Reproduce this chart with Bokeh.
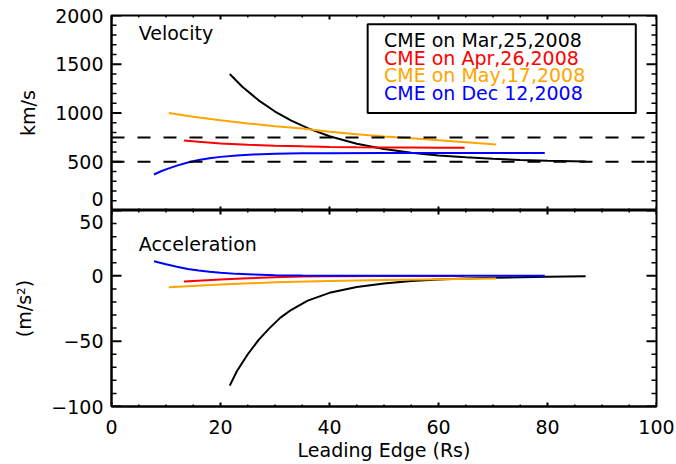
import math
from bokeh.plotting import figure
from bokeh.models import SingleIntervalTicker, Range1d, Span, Label, BoxAnnotation
from bokeh.layouts import column
from bokeh.embed import file_html
from bokeh.resources import INLINE

# ---------------- data ----------------
# CME on Mar,25,2008 (black)
mar_x_v = [21.7, 24, 27, 30, 33, 36, 40, 45, 50, 55, 60, 65, 70, 75, 80, 87]
mar_v = [1400, 1270, 1130, 1015, 922, 845, 762, 685, 630, 592, 565, 545, 530, 518, 510, 502]
mar_x_a = [21.7, 23, 25, 27, 29, 31, 33, 36, 40, 45, 50, 55, 60, 65, 70, 80, 87]
mar_a = [-84, -73, -60, -49, -40, -32, -26, -19, -13, -8.5, -5.8, -4.0, -2.8, -2.0, -1.4, -0.7, -0.4]

# CME on Apr,26,2008 (red)
apr_x_v = [13.3, 16, 20, 25, 30, 35, 40, 45, 50, 55, 60, 64.8]
apr_v = [718, 705, 688, 674, 665, 658, 652, 648, 646, 645, 644, 643]
apr_x_a = [13.3, 20, 25, 30, 35, 40, 50, 64.8]
apr_a = [-4.4, -2.9, -1.9, -1.1, -0.6, -0.4, -0.2, -0.1]

# CME on May,17,2008 (orange)
may_x_v = [10.5, 15, 20, 25, 30, 35, 40, 45, 50, 55, 60, 65, 70.6]
may_v = [1000, 962, 925, 893, 864, 840, 808, 782, 760, 740, 720, 700, 677]
may_x_a = [10.5, 20, 30, 40, 50, 60, 70.6]
may_a = [-8.7, -6.6, -5.0, -3.9, -3.2, -2.6, -2.1]

# CME on Dec 12,2008 (blue)
dec_x_v = [7.8, 9, 10, 12, 14, 16, 18, 20, 23, 26, 30, 35, 40, 50, 60, 70, 79.5]
dec_v = [369, 400, 422, 460, 492, 517, 536, 550, 565, 575, 582, 586, 588, 589, 589, 589, 589]
dec_x_a = [7.8, 10, 12, 14, 16, 18, 20, 23, 26, 30, 35, 40, 50, 60, 79.5]
dec_a = [11.2, 8.8, 6.9, 5.3, 4.1, 3.1, 2.4, 1.5, 1.0, 0.5, 0.2, 0.1, 0.05, 0, 0]

ref_speeds = [750, 500]
legend_texts = ["CME on Mar,25,2008", "CME on Apr,26,2008",
                "CME on May,17,2008", "CME on Dec 12,2008"]
colors = ["black", "#ff0000", "#ffa500", "#0000ff"]

# tick positions
x_major = [0, 20, 40, 60, 80, 100]
x_minor = [v for v in range(0, 101, 5) if v % 20 != 0]
v_major = [0, 500, 1000, 1500, 2000]
v_minor = [v for v in range(0, 2001, 100) if v % 500 != 0]
a_major = [-100, -50, 0, 50]
a_minor = [v for v in range(-100, 51, 10) if v % 50 != 0]

FONT = "DejaVu Sans"
FS = "19px"

x_range = Range1d(0, 100)


def style_axis(ax):
    ax.major_tick_in = 0
    ax.major_tick_out = 0
    ax.minor_tick_in = 0
    ax.minor_tick_out = 0
    ax.axis_line_width = 2
    ax.axis_line_color = "black"
    ax.major_label_text_font = FONT
    ax.major_label_text_font_size = FS
    ax.major_label_text_color = "black"
    ax.axis_label_text_font = FONT
    ax.axis_label_text_font_size = FS
    ax.axis_label_text_font_style = "normal"
    ax.axis_label_text_color = "black"


def add_ticks(p, x0, x1, y0, y1, ymaj, ymin):
    # inward tick marks drawn as rays of fixed screen length
    for xe, ang in ((x0, 0.0), (x1, math.pi)):
        p.ray(x=[xe] * len(ymaj), y=ymaj, length=10, length_units="screen",
              angle=ang, line_color="black", line_width=2)
        p.ray(x=[xe] * len(ymin), y=ymin, length=5, length_units="screen",
              angle=ang, line_color="black", line_width=1.5)
    for ye, ang in ((y0, math.pi / 2), (y1, -math.pi / 2)):
        p.ray(x=x_major, y=[ye] * len(x_major), length=4, length_units="screen",
              angle=ang, line_color="black", line_width=2)
        p.ray(x=x_minor, y=[ye] * len(x_minor), length=2, length_units="screen",
              angle=ang, line_color="black", line_width=1.5)


# ---------------- top panel: velocity ----------------
p1 = figure(width=676, height=210, x_range=x_range, y_range=Range1d(0, 2000),
            output_backend="svg", toolbar_location=None,
            x_axis_location=None, y_axis_location="left",
            min_border_left=111, min_border_right=20, min_border_top=15,
            min_border_bottom=0)
p1.grid.visible = False
p1.outline_line_color = "black"
p1.outline_line_width = 2

ya = p1.yaxis[0]
ya.ticker = SingleIntervalTicker(interval=500, num_minor_ticks=5)
style_axis(ya)
ya.major_label_standoff = 8
ya.axis_label = "km/s"
ya.axis_label_standoff = 13
ya.major_label_text_line_height = 0.01
ya.major_label_overrides = {0: "0\n "}

add_ticks(p1, 0, 100, 0, 2000, v_major, v_minor)

for yv in ref_speeds:
    p1.add_layout(Span(location=yv, dimension="width", line_color="black",
                       line_width=2, line_dash="13 13"))

for xs, ys, c in [(mar_x_v, mar_v, colors[0]), (apr_x_v, apr_v, colors[1]),
                  (may_x_v, may_v, colors[2]), (dec_x_v, dec_v, colors[3])]:
    p1.line(xs, ys, line_color=c, line_width=2)

p1.add_layout(Label(x=5, y=1819, text="Velocity", text_align="left",
                    text_baseline="middle", text_font=FONT, text_font_size=FS,
                    text_color="black"))

p1.add_layout(BoxAnnotation(left=47.0, right=96.2, top=1910, bottom=1000,
                            fill_color="white", fill_alpha=1.0,
                            line_color="black", line_width=2, line_alpha=1.0))
leg_y = [1747, 1569, 1387, 1205]
for t, c, yy in zip(legend_texts, colors, leg_y):
    p1.add_layout(Label(x=50.0, y=yy, text=t, text_color=c, text_align="left",
                        text_baseline="middle", text_font=FONT,
                        text_font_size=FS))

# ---------------- bottom panel: acceleration ----------------
p2 = figure(width=676, height=254, x_range=x_range, y_range=Range1d(-100, 50),
            output_backend="svg", toolbar_location=None,
            x_axis_location="below", y_axis_location="left",
            min_border_left=111, min_border_right=20, min_border_top=0,
            min_border_bottom=58)
p2.grid.visible = False
p2.outline_line_color = "black"
p2.outline_line_width = 2

ya2 = p2.yaxis[0]
ya2.ticker = SingleIntervalTicker(interval=50, num_minor_ticks=5)
style_axis(ya2)
ya2.major_label_standoff = 8
ya2.axis_label = "(m/s²)"
ya2.axis_label_standoff = 13
ya2.major_label_text_line_height = 0.01
ya2.major_label_overrides = {50: " \n50", -50: "\u221250", -100: "\u2212100"}

xa2 = p2.xaxis[0]
xa2.ticker = SingleIntervalTicker(interval=20, num_minor_ticks=4)
style_axis(xa2)
xa2.major_label_standoff = 13
xa2.axis_label = "Leading Edge (Rs)"
xa2.axis_label_standoff = 2

add_ticks(p2, 0, 100, -100, 50, a_major, a_minor)

for xs, ys, c in [(mar_x_a, mar_a, colors[0]), (apr_x_a, apr_a, colors[1]),
                  (may_x_a, may_a, colors[2]), (dec_x_a, dec_a, colors[3])]:
    p2.line(xs, ys, line_color=c, line_width=2)

p2.add_layout(Label(x=5, y=24, text="Acceleration", text_align="left",
                    text_baseline="middle", text_font=FONT, text_font_size=FS,
                    text_color="black"))

layout = column(p1, p2, spacing=0)

with open("out.html", "w") as f:
    f.write(file_html(layout, INLINE))
